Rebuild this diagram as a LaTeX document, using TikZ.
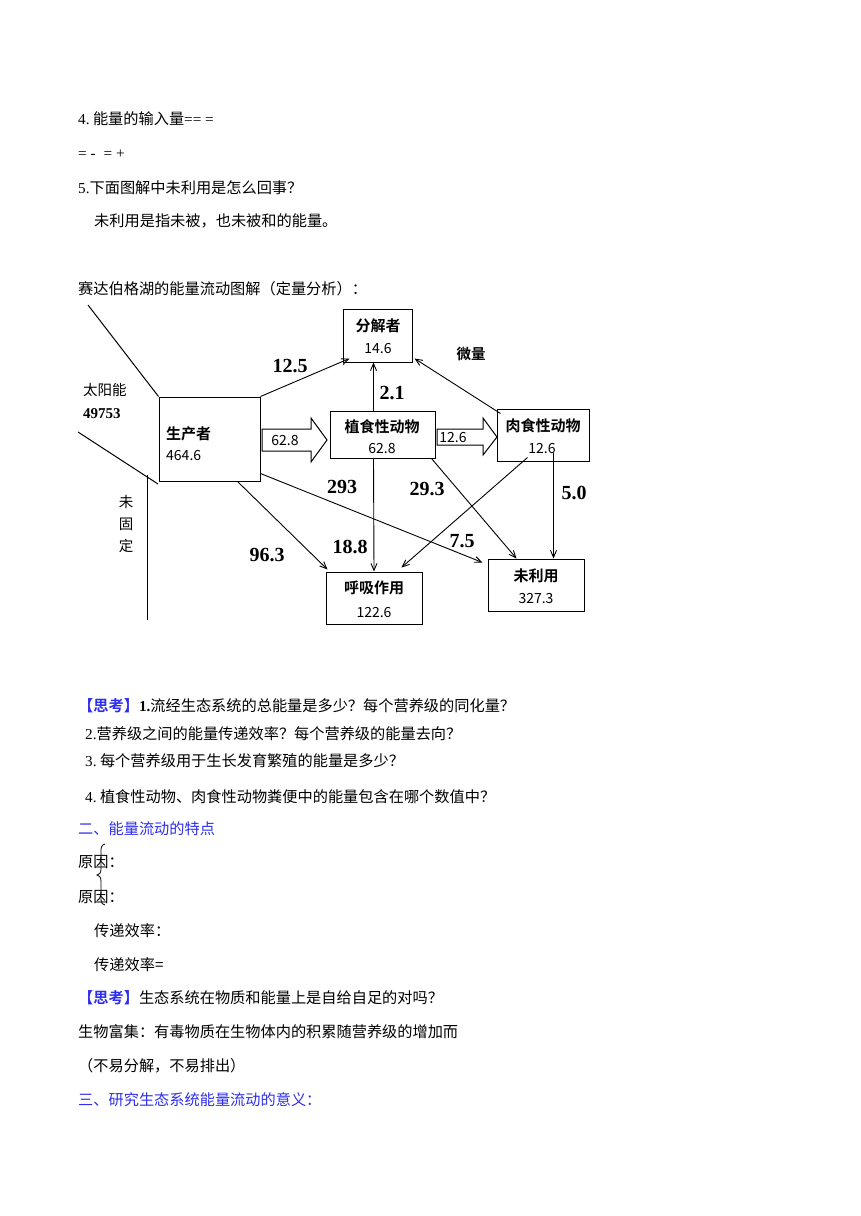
\documentclass[tikz,border=0pt]{standalone}
\usepackage{fontspec}
\setmainfont{Liberation Serif}
\newfontfamily\cjk[BoldFont={Noto Sans CJK SC Bold}]{Noto Sans CJK SC}
\usetikzlibrary{arrows.meta,calc}
\definecolor{hblue}{RGB}{45,45,240}
\begin{document}
\begin{tikzpicture}[x=1pt,y=-1pt,
  txt/.style={anchor=west,inner sep=0pt,font=\fontsize{15.2}{18}\selectfont\cjk},
  btxt/.style={anchor=west,inner sep=0pt,font=\fontsize{15.2}{18}\selectfont\cjk,text=hblue},
  box/.style={draw,line width=1pt,inner sep=0pt},
  blab/.style={inner sep=0pt,font=\fontsize{15}{17}\selectfont\cjk\bfseries},
  bnum/.style={inner sep=0pt,font=\fontsize{14}{17}\selectfont\cjk},
  big/.style={inner sep=0pt,font=\fontsize{20}{22}\selectfont\bfseries},
  arr/.style={line width=0.9pt,-{Straight Barb[length=7pt,width=6pt]}},
  ln/.style={line width=1pt}]
\useasboundingbox (0,0) rectangle (860,1216);

% text above
\node[txt] (t1) at (78,119) {{\rmfamily 4.}\ 能量的输入量{\rmfamily== =}};
\node[txt] (t2) at (78,154) {{\rmfamily = -\hspace{8pt}= +}};
\node[txt] (t3) at (78,188) {{\rmfamily 5.}下面图解中未利用是怎么回事？};
\node[txt] (t4) at (94,221) {未利用是指未被，也未被和的能量。};
\node[txt] (t5) at (78,289) {赛达伯格湖的能量流动图解（定量分析）：};

% boxes
\node[box,minimum width=101pt,minimum height=84pt] (prod) at (209.5,439) {};
\node[box,minimum width=69pt,minimum height=53pt] (dec) at (377.5,335.5) {};
\node[box,minimum width=105pt,minimum height=47pt] (herb) at (382.5,434.5) {};
\node[box,minimum width=92pt,minimum height=52pt] (carn) at (543,435) {};
\node[box,minimum width=96pt,minimum height=52pt] (resp) at (374,598) {};
\node[box,minimum width=96pt,minimum height=52pt] (unus) at (536,585) {};

\node[blab,anchor=west] (prodl) at (166,434) {生产者};
\node[bnum,anchor=west] (prodn) at (166,456) {464.6};
\node[blab] (decl) at (378,326) {分解者};
\node[bnum] (decn) at (378,349) {14.6};
\node[blab] (herbl) at (382,427) {植食性动物};
\node[bnum] (herbn) at (382,449) {62.8};
\node[blab] (carnl) at (543,426) {肉食性动物};
\node[bnum] (carnn) at (542,449) {12.6};
\node[blab] (respl) at (374,588) {呼吸作用};
\node[bnum] (respn) at (374,612) {122.6};
\node[blab] (unusl) at (536,576) {未利用};
\node[bnum] (unusn) at (536,598) {327.3};

% sun
\coordinate (s1) at (88,305);
\coordinate (s2) at (78,432);
\coordinate (s3) at (158,484);
\coordinate (v1) at (147,475);
\coordinate (v2) at (147,620);
\draw[ln] (s1) -- (prod.north west);
\draw[ln] (s2) -- (s3);
\draw[ln] (v1) -- (v2);
\node[txt,font=\fontsize{14.5}{17}\selectfont\cjk] (sun) at (83,390) {太阳能};
\node[anchor=west,inner sep=0pt,font=\fontsize{15}{17}\selectfont\bfseries] (sunv) at (83,414) {49753};
\node[inner sep=0pt,font=\fontsize{14.5}{17}\selectfont\cjk] (w1) at (126,502) {未};
\node[inner sep=0pt,font=\fontsize{14.5}{17}\selectfont\cjk] (w2) at (126,524) {固};
\node[inner sep=0pt,font=\fontsize{14.5}{17}\selectfont\cjk] (w3) at (126,546) {定};

% fat arrows
\draw[line width=1pt,fill=white] (262,429) -- (311,429) -- (311,418) -- (327,440) -- (311,462) -- (311,451) -- (262,451) -- cycle;
\node[bnum] (fa1) at (285,441) {62.8};
\draw[line width=1pt,fill=white] (437,429) -- (483,429) -- (483,418) -- (497,437) -- (483,455) -- (483,445) -- (437,445) -- cycle;
\node[bnum] (fa2) at (453,437.5) {12.6};

% arrows
\draw[arr] (prod.north east) -- ($(dec.south west)+(7,-4)$);
\draw[arr] ($(herb.north west)+(44,0)$) -- ($(dec.south west)+(31,0)$);
\draw[arr] ($(carn.north west)+(4,5)$) -- ($(dec.south east)+(2,-4)$);
\draw[arr] ($(prod.south west)+(79,0)$) -- ($(resp.north west)+(2,-2)$);
\draw[arr] ($(prod.south east)+(0,-8)$) -- ($(unus.north west)+(-5,4)$);
\draw[arr] ($(herb.south west)+(44,0)$) -- (resp.north);
\draw[arr] ($(herb.south east)+(-4,0)$) -- ($(unus.north west)+(29,0)$);
\draw[arr] ($(carn.south west)+(31,-4)$) -- ($(resp.north east)+(-21,-4)$);
\draw[arr] ($(carn.south west)+(57,-9)$) -- ($(unus.north west)+(66,0)$);

\node[big] (n1) at (290,366) {12.5};
\node[big] (n2) at (392,393) {2.1};
\node[big] (n3) at (342,487) {293};
\node[big] (n4) at (427,489) {29.3};
\node[big] (n5) at (574,493) {5.0};
\node[big] (n6) at (350,547) {18.8};
\node[big] (n7) at (462,541) {7.5};
\node[big] (n8) at (267,555) {96.3};
\node[inner sep=0pt,font=\fontsize{14.5}{17}\selectfont\cjk\bfseries] (wl) at (471,354) {微量};

% text below
\node[txt] (q1) at (78,706) {{\bfseries\color{hblue}【思考】}{\rmfamily\bfseries 1.}流经生态系统的总能量是多少？每个营养级的同化量？};
\node[txt] (q2) at (85,734) {{\rmfamily 2.}营养级之间的能量传递效率？每个营养级的能量去向？};
\node[txt] (q3) at (85,761) {{\rmfamily 3.}\ 每个营养级用于生长发育繁殖的能量是多少？};
\node[txt] (q4) at (85,797) {{\rmfamily 4.}\ 植食性动物、肉食性动物粪便中的能量包含在哪个数值中？};
\node[btxt] (h2) at (78,829) {二、能量流动的特点};
\node[txt] (r1) at (78,862) {原因：};
\node[txt] (r2) at (78,897) {原因：};
\draw[line width=0.8pt] (105,844) .. controls (101,845) and (101,848) .. (101,852) -- (101,869) .. controls (101,873) and (99,875) .. (97,875) .. controls (99,875) and (101,877) .. (101,881) -- (101,900) .. controls (101,903) and (103,905) .. (105,905);
\node[txt] (e1) at (94,931) {传递效率：};
\node[txt] (e2) at (94,965) {传递效率=};
\node[txt] (q5) at (78,998) {{\bfseries\color{hblue}【思考】}生态系统在物质和能量上是自给自足的对吗？};
\node[txt] (b1) at (78,1032) {生物富集：有毒物质在生物体内的积累随营养级的增加而};
\node[txt] (b2) at (78,1066) {（不易分解，不易排出）};
\node[btxt] (h3) at (78,1100) {三、研究生态系统能量流动的意义：};
\end{tikzpicture}
\end{document}
